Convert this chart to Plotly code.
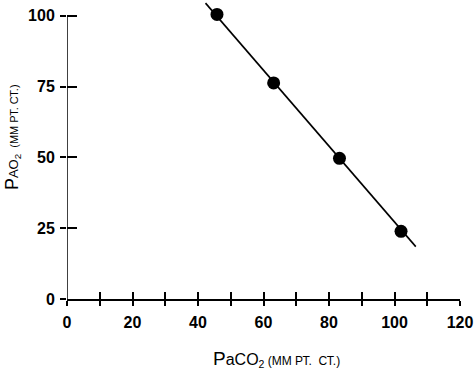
import plotly.graph_objects as go

# Data
paco2 = [45.8, 63.1, 83.2, 102.0]
pao2 = [100.5, 76.3, 49.7, 23.9]
fit_x = [42.3, 106.5]
fit_y = [104.5, 18.5]

x_tickvals = [0, 10, 20, 30, 40, 50, 60, 70, 80, 90, 100, 110, 120]
x_ticktext = ["0", "", "20", "", "40", "", "60", "", "80", "", "100", "", "120"]
y_tickvals = [0, 25, 50, 75, 100]
y_ticktext = ["0", "25", "50", "75", "100"]

x_range = [0, 120]
y_range = [0, 105.6]
y_axis_top = 100

FONT = "Liberation Sans, Arial, sans-serif"

fig = go.Figure()

fig.add_trace(go.Scatter(
    x=fit_x, y=fit_y, mode="lines",
    line=dict(color="black", width=1.6),
    xaxis="x2", yaxis="y2", hoverinfo="skip", showlegend=False,
))
fig.add_trace(go.Scatter(
    x=paco2, y=pao2, mode="markers",
    marker=dict(color="black", size=13),
    showlegend=False, cliponaxis=False,
))

common_tick = dict(color="black", family=FONT, size=16, weight="bold")

fig.update_layout(
    width=474, height=371,
    margin=dict(l=67, r=14, t=0, b=72),
    paper_bgcolor="white", plot_bgcolor="white",
    font=dict(family=FONT, color="black"),
    xaxis=dict(
        range=x_range, tickvals=x_tickvals, ticktext=x_ticktext,
        ticks="outside", ticklen=5, tickwidth=1.5, tickcolor="black",
        showline=True, linecolor="black", linewidth=1.5,
        showgrid=False, zeroline=False, tickfont=common_tick,
        ticklabelstandoff=3,
    ),
    yaxis=dict(
        range=y_range, tickvals=y_tickvals, ticktext=y_ticktext,
        ticks="outside", ticklen=6, tickwidth=1.5, tickcolor="black",
        showline=False, showgrid=False, zeroline=False, tickfont=common_tick,
        ticklabelstandoff=2,
    ),
    xaxis2=dict(
        range=x_range, tickvals=x_tickvals, overlaying="x", anchor="y2", side="bottom",
        ticks="inside", ticklen=7, tickwidth=1.5, tickcolor="black",
        showticklabels=False, showgrid=False, zeroline=False, showline=False,
    ),
    yaxis2=dict(
        range=y_range, tickvals=y_tickvals, overlaying="y", anchor="x2", side="left",
        ticks="inside", ticklen=10, tickwidth=1.5, tickcolor="black",
        showticklabels=False, showgrid=False, zeroline=False, showline=False,
    ),
    shapes=[dict(type="line", xref="x", yref="y", x0=0, x1=0, y0=0, y1=y_axis_top,
                 line=dict(color="black", width=1.5))],
    annotations=[
        dict(xref="paper", yref="paper", x=0.534, y=-0.2007, showarrow=False,
             xanchor="center", yanchor="middle",
             text="<span style='font-size:19px'>P</span><span style='font-size:16px'>aCO</span><sub>2</sub>"
                  "<span style='font-size:12px'> (ММ РТ.  СТ.)</span>",
             font=dict(size=15, color="black", family=FONT)),
        dict(xref="paper", yref="paper", x=-0.137, y=0.542, showarrow=False,
             xanchor="center", yanchor="middle", textangle=-90,
             text="<span style='font-size:18px'>P</span><span style='font-size:13px'>AO</span><sub>2</sub>"
                  "<span style='font-size:11px'>  (ММ РТ. СТ.)</span>",
             font=dict(size=14, color="black", family=FONT)),
    ],
)

fig.write_html("out.html", config={"displayModeBar": False},
               post_script="document.body.style.margin='0';document.body.style.overflow='hidden';")
